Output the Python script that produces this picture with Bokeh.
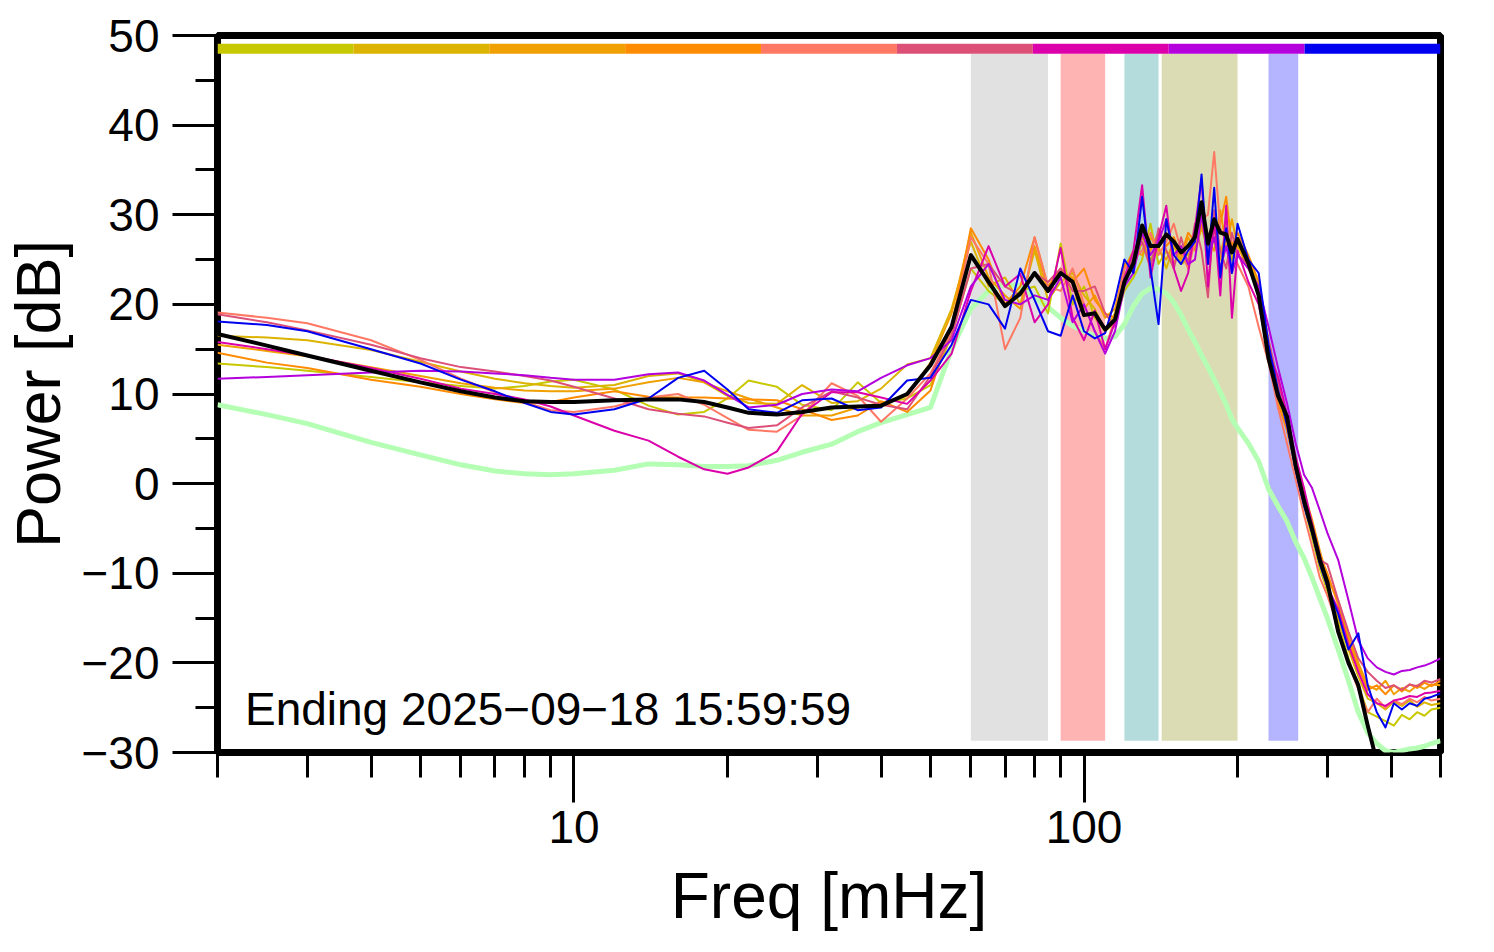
import numpy as np
from bokeh.plotting import figure
from bokeh.models import Range1d, FixedTicker, CustomJSTickFormatter, Label
from bokeh.embed import file_html
from bokeh.resources import INLINE

# ---------------- data ----------------
freq = [2, 2.5, 3, 4, 5, 6, 7, 8, 9, 10, 12, 14, 16, 18, 20, 22, 25, 28, 32, 36, 40, 45,
        50, 55, 60, 65, 70, 75, 80, 85, 90, 95, 100, 105, 110, 115, 120, 125, 130, 135, 140, 145,
        150, 155, 160, 165, 170, 175, 180, 185, 190, 195, 200, 210, 220, 230, 240, 250, 260, 270, 280, 290,
        300, 315, 330, 345, 360, 375, 390, 405, 420, 435, 450, 465, 480, 500]

s_yellowgreen = [13.4, 13.0, 12.6, 11.9, 11.3, 10.9, 10.6, 10.9, 11.4, 11.6, 10.5, 8.7, 7.7, 8.0, 9.5, 11.5, 10.8, 8.8, 8.2, 11.3, 9.0, 9.5,
                 11.0, 16.5, 24.0, 21.5, 20.0, 21.5, 22.0, 19.0, 26.8, 20.0, 22.0, 18.5, 17.0, 18.0, 21.5, 23.0, 25.0, 29.0, 24.5, 26.0,
                 24.5, 26.5, 25.5, 26.5, 28.5, 26.5, 27.0, 26.0, 27.5, 25.0, 26.5, 25.0, 22.0, 16.0, 11.0, 6.5, 2.0, -2.5, -6.0, -9.5,
                 -12.0, -15.5, -19.5, -22.5, -25.5, -26.0, -26.5, -27.0, -25.8, -26.3, -25.5, -25.9, -25.2, -25.0]
s_gold = [16.5, 16.3, 16.0, 14.9, 13.6, 12.5, 11.7, 11.2, 10.9, 10.7, 11.0, 12.0, 12.3, 11.3, 9.8, 9.0, 8.9, 11.0, 9.0, 9.2, 10.6, 13.3,
          14.0, 19.5, 27.0, 22.0, 23.0, 20.0, 26.0, 20.5, 22.5, 23.5, 21.0, 19.5, 17.0, 19.0, 23.5, 24.0, 27.0, 25.0, 26.5, 24.0,
          26.5, 24.5, 25.0, 27.5, 29.0, 25.5, 27.5, 25.0, 28.5, 25.0, 27.0, 24.5, 21.0, 15.5, 10.0, 6.0, 1.5, -2.0, -5.0, -9.0,
          -11.5, -15.0, -18.5, -21.5, -24.0, -24.5, -25.2, -24.3, -24.8, -24.2, -24.9, -24.4, -24.7, -24.5]
s_orange = [15.5, 14.8, 14.2, 13.0, 12.0, 11.2, 10.7, 10.4, 10.3, 10.3, 10.6, 11.3, 11.8, 11.3, 10.3, 9.5, 8.5, 7.6, 7.6, 8.5, 9.0, 9.8,
            13.5, 19.0, 28.0, 23.0, 21.0, 19.5, 26.5, 21.5, 23.5, 23.0, 19.5, 21.0, 18.5, 19.5, 24.0, 26.0, 25.5, 27.5, 26.0, 25.0,
            27.0, 25.0, 27.5, 26.0, 28.5, 27.0, 26.0, 30.5, 26.5, 29.5, 26.5, 24.0, 21.5, 14.5, 10.5, 6.5, 3.0, -1.0, -4.0, -7.5,
            -10.5, -13.0, -17.0, -20.0, -22.5, -23.0, -22.0, -23.5, -22.8, -23.2, -22.5, -22.9, -22.4, -22.5]
s_darkorange = [14.6, 13.5, 12.9, 11.6, 10.8, 10.0, 9.4, 9.0, 9.1, 9.6, 10.3, 9.7, 9.6, 9.6, 9.5, 9.4, 9.3, 8.3, 7.1, 7.6, 9.2, 8.0,
                10.4, 17.5, 28.5, 25.0, 20.0, 22.0, 27.5, 22.0, 24.0, 22.5, 24.0, 20.5, 19.0, 18.5, 24.5, 25.0, 27.5, 26.0, 28.0, 26.5,
                27.5, 25.5, 28.0, 27.0, 29.0, 26.5, 28.0, 29.0, 32.0, 26.5, 28.0, 25.5, 22.5, 15.0, 9.0, 6.0, 2.0, -2.0, -5.5, -8.0,
                -10.0, -13.5, -17.5, -20.5, -23.0, -22.5, -23.5, -22.5, -23.2, -22.4, -22.8, -22.2, -22.6, -22.0]
s_salmon = [19.1, 18.5, 17.9, 16.0, 13.8, 11.7, 10.2, 9.1, 8.2, 8.0, 8.6, 9.6, 10.0, 8.8, 7.3, 6.0, 5.8, 7.6, 11.2, 9.8, 6.9, 9.5,
            12.3, 17.0, 27.5, 24.5, 15.0, 18.5, 27.5, 22.0, 21.5, 24.0, 20.0, 17.0, 15.0, 18.5, 24.0, 25.0, 26.0, 28.0, 25.5, 27.0,
            29.0, 26.0, 24.0, 27.0, 29.5, 30.0, 37.0, 28.5, 27.0, 26.5, 24.5, 22.0, 17.5, 13.5, 8.5, 4.5, 0.5, -3.5, -7.0, -10.5,
            -12.5, -16.0, -20.0, -23.0, -25.5, -24.0, -25.0, -24.2, -24.6, -24.0, -24.4, -23.8, -24.2, -24.0]
s_pinkred = [18.9, 18.0, 17.1, 15.5, 14.0, 13.0, 12.5, 12.0, 11.5, 10.8, 9.5, 8.3, 7.8, 7.5, 6.8, 6.2, 6.5, 8.5, 10.3, 9.6, 8.8, 8.3,
             12.0, 16.5, 24.0, 24.5, 22.0, 21.0, 23.5, 22.5, 24.0, 21.5, 21.5, 22.0, 19.0, 17.5, 22.5, 25.5, 27.0, 24.0, 28.5, 26.0,
             24.0, 27.5, 24.5, 29.0, 26.0, 20.8, 30.5, 26.0, 24.0, 28.0, 25.5, 24.5, 21.0, 16.0, 11.5, 7.0, 2.5, -1.5, -4.5, -8.5,
             -9.0, -13.0, -16.5, -19.5, -21.0, -22.0, -22.8, -22.5, -23.0, -22.4, -22.6, -22.0, -22.2, -21.8]
s_magenta = [15.8, 15.0, 14.3, 12.9, 11.7, 10.6, 10.0, 9.4, 8.6, 7.6, 5.9, 4.8, 3.0, 1.6, 1.1, 1.8, 3.6, 7.8, 10.2, 10.2, 9.6, 8.9,
             11.5, 14.5, 21.5, 26.5, 22.0, 23.4, 18.0, 20.0, 26.3, 18.5, 16.0, 19.3, 15.0, 18.0, 23.0, 26.0, 33.3, 23.0, 27.5, 31.0,
             24.0, 21.5, 23.5, 28.5, 34.0, 22.0, 29.5, 21.0, 31.0, 18.5, 26.0, 22.5, 20.0, 14.5, 12.0, 7.8, 3.0, -0.5, -4.5, -8.0,
             -11.5, -14.0, -18.0, -21.0, -23.5, -24.5, -24.8, -24.2, -24.0, -23.7, -23.8, -23.4, -23.3, -23.1]
s_purple = [11.7, 11.9, 12.1, 12.4, 12.6, 12.5, 12.3, 12.1, 11.8, 11.6, 11.6, 12.2, 12.4, 11.5, 9.9, 8.5, 8.8, 10.0, 10.5, 10.3, 11.8, 13.2,
            14.0, 16.0, 22.0, 24.5, 20.5, 20.0, 21.0, 20.5, 23.0, 18.0, 20.0, 17.0, 14.5, 17.0, 22.0, 23.5, 28.0, 25.5, 27.0, 29.5,
            25.5, 26.5, 24.5, 25.0, 30.0, 25.0, 27.5, 24.0, 26.5, 23.5, 25.5, 24.0, 22.0, 17.5, 13.0, 9.0, 4.5, 1.0, -0.5, -3.0,
            -5.5, -8.5, -13.0, -17.5, -19.5, -20.5, -21.0, -21.3, -20.9, -20.8, -20.5, -20.3, -20.0, -19.5]
s_blue = [18.1, 17.7, 17.0, 15.0, 13.4, 11.6, 10.3, 9.0, 8.0, 7.7, 8.3, 9.5, 11.8, 12.6, 10.5, 8.3, 7.9, 9.3, 9.5, 8.2, 8.5, 11.5,
          11.8, 15.5, 20.5, 20.0, 17.3, 24.0, 20.5, 17.0, 16.5, 21.0, 17.0, 16.2, 16.8, 20.5, 25.0, 23.5, 32.0, 24.0, 17.8, 29.5,
          25.5, 24.5, 26.0, 27.0, 34.5, 24.5, 33.0, 23.0, 28.5, 23.5, 29.0, 25.0, 23.5, 15.5, 10.5, 6.5, 1.5, -2.5, -5.5, -9.0,
          -11.5, -14.5, -18.5, -16.7, -22.5, -25.5, -27.2, -24.5, -25.2, -24.5, -24.8, -24.0, -23.8, -23.4]
s_mean = [16.7, 15.4, 14.3, 12.6, 11.3, 10.3, 9.6, 9.2, 9.1, 9.1, 9.3, 9.4, 9.4, 9.1, 8.5, 7.9, 7.7, 8.0, 8.5, 8.6, 8.7, 10.0,
          13.2, 17.5, 25.5, 22.5, 19.8, 21.2, 23.5, 21.5, 23.5, 22.5, 18.8, 19.0, 17.2, 18.3, 22.5, 24.6, 28.8, 26.5, 26.5, 27.8,
          27.0, 25.8, 26.5, 27.5, 31.4, 26.8, 29.5, 28.0, 27.8, 25.8, 27.3, 24.6, 21.0, 14.0, 9.8, 7.5, 2.0, -1.9, -5.1, -8.5,
          -11.0, -16.5, -20.0, -22.5, -27.0, -31.0, -32.0, -32.0, -32.0, -32.0, -32.0, -32.0, -32.0, -32.0]
s_green = [8.8, 7.7, 6.7, 4.6, 3.2, 2.1, 1.4, 1.1, 1.0, 1.1, 1.5, 2.2, 2.1, 1.9, 1.9, 2.0, 2.6, 3.5, 4.4, 5.8, 6.8, 7.7,
           8.5, 15.0, 19.5, 21.5, 22.3, 22.0, 20.8, 19.7, 18.5, 17.6, 17.0, 16.5, 16.2, 16.4, 17.8, 19.8, 21.2, 21.8, 21.7, 21.2,
           20.2, 18.8, 17.2, 15.8, 14.3, 13.0, 11.6, 10.2, 8.8, 7.2, 6.2, 4.5, 2.5, -0.6, -2.5, -4.2, -6.5, -8.3, -10.5, -12.8,
           -15.0, -18.5, -22.0, -25.5, -27.8, -29.0, -29.8, -30.0, -29.8, -29.6, -29.5, -29.3, -29.0, -28.7]

series = [s_yellowgreen, s_gold, s_orange, s_darkorange, s_salmon, s_pinkred, s_magenta, s_purple, s_blue]
series_colors = ["#c8c800", "#dcb400", "#f0a000", "#ff8c00", "#ff7864", "#dc5078", "#dc00aa", "#b400dc", "#0000f0"]

band_lo = [60, 90, 120, 142, 230]
band_hi = [85, 110, 140, 200, 263]
band_colors = ["#e1e1e1", "#ffb4b4", "#b4dcdc", "#dcdcb4", "#b4b4ff"]

y_ticks = [-30, -20, -10, 0, 10, 20, 30, 40, 50]
y_minor = [-25, -15, -5, 5, 15, 25, 35, 45]
x_ticks = [10, 100]
x_minor = [2, 3, 4, 5, 6, 7, 8, 9, 20, 30, 40, 50, 60, 70, 80, 90, 200, 300, 400, 500]

title_text = "Ending 2025\u221209\u221218 15:59:59"

# ---------------- figure ----------------
FONT = "Liberation Sans"
X0, X1 = 2, 500
Y0, Y1 = -30, 50

p = figure(width=1478, height=936, x_axis_type="log",
           x_range=Range1d(X0, X1), y_range=Range1d(Y0, Y1),
           output_backend="svg", toolbar_location=None,
           min_border_left=216, min_border_right=38, min_border_top=35, min_border_bottom=184)
p.background_fill_color = "white"
p.border_fill_color = "white"
p.outline_line_color = "black"
p.outline_line_width = 7
p.xgrid.visible = False
p.ygrid.visible = False

# bands
p.quad(left=band_lo, right=band_hi, bottom=-28.7, top=47.95, color=band_colors, line_color=None)

# top colour bar (one segment per series, equal log widths)
edges = np.logspace(np.log10(X0), np.log10(X1), len(series) + 1)
p.quad(left=edges[:-1], right=edges[1:], bottom=47.95, top=49.07, color=series_colors, line_color=None)

# lines
p.line(freq, s_green, line_color="#b4ffb4", line_width=5, line_join="round")
for s, c in zip(series, series_colors):
    p.line(freq, s, line_color=c, line_width=2, line_join="round")
p.line(freq, s_mean, line_color="black", line_width=4, line_join="round")

# axes
xa = p.xaxis[0]
xa.ticker = FixedTicker(ticks=x_ticks, minor_ticks=x_minor)
xa.formatter = CustomJSTickFormatter(code="return tick.toFixed(0);")
ya = p.yaxis[0]
ya.ticker = FixedTicker(ticks=y_ticks, minor_ticks=y_minor)
ya.formatter = CustomJSTickFormatter(code="return tick < 0 ? '\u2212' + (-tick).toFixed(0) : tick.toFixed(0);")
for ax in (xa, ya):
    ax.axis_line_color = None
    ax.major_tick_line_color = "black"
    ax.minor_tick_line_color = "black"
    ax.major_tick_line_width = 3
    ax.minor_tick_line_width = 3
    ax.major_tick_in = 0
    ax.minor_tick_in = 0
    ax.major_label_text_font = FONT
    ax.major_label_text_font_size = "46px"
    ax.major_label_text_color = "black"
    ax.axis_label_text_font = FONT
    ax.axis_label_text_font_style = "normal"
    ax.axis_label_text_color = "black"
xa.major_tick_out = 50
xa.minor_tick_out = 25
xa.major_label_standoff = 8
xa.major_label_text_line_height = 0.9
xa.axis_label = "Freq [mHz]"
xa.axis_label_text_font_size = "64px"
xa.axis_label_text_line_height = 0.9
xa.axis_label_standoff = 14
ya.major_tick_out = 45
ya.minor_tick_out = 22
ya.major_label_standoff = 13
ya.axis_label = "Power [dB]"
ya.axis_label_text_font_size = "63px"
ya.axis_label_standoff = 5

p.add_layout(Label(x=2.264, y=-25.2, text=title_text, text_font=FONT, text_font_size="46px",
                   text_align="left", text_baseline="alphabetic", text_color="black"))

open("out.html", "w").write(file_html(p, INLINE))
